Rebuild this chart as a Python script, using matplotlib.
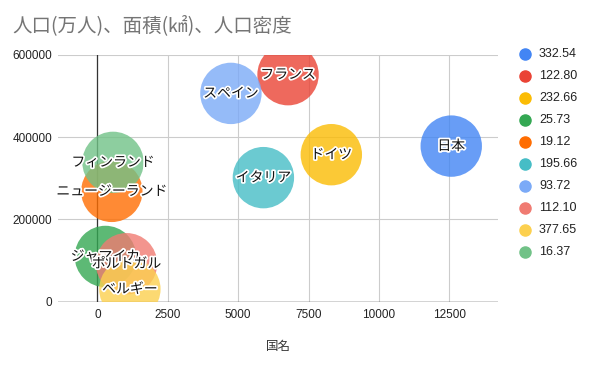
import matplotlib
matplotlib.use("Agg")
import matplotlib.pyplot as plt
from matplotlib.lines import Line2D
import matplotlib.patheffects as pe

plt.rcParams['font.family'] = ['Noto Sans CJK JP', 'DejaVu Sans']

# Data
countries = ["日本", "フランス", "ドイツ", "ジャマイカ", "ニュージーランド",
             "イタリア", "スペイン", "ポルトガル", "ベルギー", "フィンランド"]
population = [12569, 6772, 8309, 283, 512, 5896, 4742, 1034, 1153, 554]      # 万人 (x)
area = [377975, 551500, 357114, 109884, 268021, 301340, 505990, 92212, 30528, 338424]  # km2 (y)
density_labels = ["332.54", "122.80", "232.66", "25.73", "19.12",
                  "195.66", "93.72", "112.10", "377.65", "16.37"]
colors = ["#4285F4", "#EA4335", "#FBBC04", "#34A853", "#FF6D01",
          "#46BDC6", "#7BAAF7", "#F07B72", "#FCD04F", "#71C287"]
xticks = [0, 2500, 5000, 7500, 10000, 12500]
yticks = [0, 200000, 400000, 600000]

W, H = 590, 366
fig = plt.figure(figsize=(W / 100, H / 100), dpi=100)
fig.patch.set_facecolor("white")

left, right, top, bottom = 58, 498, 54.7, 301.7
ax = fig.add_axes([left / W, 1 - bottom / H, (right - left) / W, (bottom - top) / H])
ax.set_xlim(-1400, 14230)
ax.set_ylim(0, 600000)
for s in ax.spines.values():
    s.set_visible(False)

ax.set_xticks(xticks)
ax.set_yticks(yticks)
ax.set_xticklabels([str(t) for t in xticks], fontfamily="Liberation Sans", fontsize=8.5, color="#222222")
ax.set_yticklabels([str(t) for t in yticks], fontfamily="Liberation Sans", fontsize=8.5, color="#222222")
ax.tick_params(length=0, pad=5)
ax.tick_params(axis='y', pad=4)
ax.grid(True, color="#cccccc", linewidth=0.8, zorder=0)
ax.set_axisbelow(True)
ax.axhline(0, color="#333333", linewidth=1.0, zorder=1)
ax.axvline(0, color="#333333", linewidth=0.9, zorder=1)

diam_pt = 61.4 * 0.72
for i in range(len(countries)):
    ax.scatter([population[i]], [area[i]], s=diam_pt ** 2, color=colors[i],
               alpha=0.8, edgecolors="none", zorder=3)
for i in range(len(countries)):
    ax.text(population[i], area[i], countries[i], ha="center", va="center",
            fontsize=10, color="#111111", zorder=5,
            path_effects=[pe.withStroke(linewidth=2.5, foreground="white")])

ax.set_xlabel("国名", fontsize=9, color="#333333", labelpad=14)

fig.text(12 / W, 1 - 26 / H, "人口(万人)、面積(㎢)、人口密度", fontsize=14,
         color="#757575", ha="left", va="center")

# Legend
for i in range(len(density_labels)):
    yy = 54.3 + i * 21.93
    fig.add_artist(Line2D([525 / W], [1 - yy / H], marker="o", markersize=8,
                          color=colors[i], linestyle="", transform=fig.transFigure))
    fig.text(539 / W, 1 - yy / H, density_labels[i], fontfamily="Liberation Sans",
             fontsize=9, color="#222222", ha="left", va="center")

fig.savefig("out.png", dpi=100, facecolor="white")
